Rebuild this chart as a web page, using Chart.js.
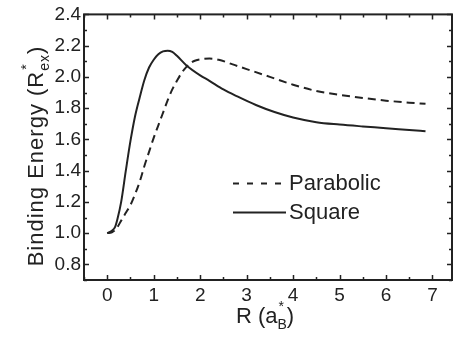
<!DOCTYPE html>
<html>
<head>
<meta charset="utf-8">
<script src="https://cdn.jsdelivr.net/npm/chart.js@4/dist/chart.umd.min.js"></script>
<style>
  html, body { margin: 0; padding: 0; background: #fff; }
  #wrap { width: 453px; height: 340px; }
</style>
</head>
<body>
<div id="wrap"><canvas id="c" width="453" height="340"></canvas></div>
<script>
// ---- Data ----
const squareR = [0, 0.1, 0.17, 0.22, 0.3, 0.4, 0.5, 0.6, 0.7, 0.8, 0.9, 1.0, 1.1, 1.2, 1.3, 1.4, 1.5, 1.7, 2.0, 2.2, 2.5, 2.8, 3.2, 3.6, 4.0, 4.5, 5.0, 5.5, 6.0, 6.5, 6.85];
const squareE = [1.0, 1.015, 1.04, 1.09, 1.2, 1.4, 1.59, 1.75, 1.87, 1.98, 2.06, 2.11, 2.145, 2.163, 2.168, 2.16, 2.135, 2.075, 2.01, 1.975, 1.92, 1.875, 1.82, 1.775, 1.74, 1.71, 1.695, 1.683, 1.672, 1.66, 1.652];

const parabolicR = [0, 0.1, 0.2, 0.3, 0.4, 0.5, 0.6, 0.7, 0.8, 0.9, 1.0, 1.1, 1.2, 1.3, 1.4, 1.5, 1.6, 1.7, 1.8, 1.9, 2.0, 2.2, 2.4, 2.7, 3.0, 3.5, 4.0, 4.5, 5.0, 5.5, 6.0, 6.5, 6.85];
const parabolicE = [1.0, 1.005, 1.03, 1.08, 1.13, 1.18, 1.25, 1.33, 1.43, 1.52, 1.61, 1.69, 1.77, 1.85, 1.92, 1.975, 2.025, 2.063, 2.09, 2.105, 2.112, 2.117, 2.11, 2.08, 2.05, 2.0, 1.95, 1.91, 1.885, 1.865, 1.848, 1.835, 1.828];

const seriesLabels = ['Parabolic', 'Square'];
const xTickValues = [0, 1, 2, 3, 4, 5, 6, 7];
const yTickValues = [0.8, 1.0, 1.2, 1.4, 1.6, 1.8, 2.0, 2.2, 2.4];
const xMinorTicks = [-0.5, 0.5, 1.5, 2.5, 3.5, 4.5, 5.5, 6.5];
const yMinorTicks = [0.7, 0.9, 1.1, 1.3, 1.5, 1.7, 1.9, 2.1, 2.3];

const INK = '#222222';
const FONT = "'Liberation Sans', Arial, sans-serif";

const toXY = (xs, ys) => xs.map((x, i) => ({ x: x, y: ys[i] }));

// Frame + inward ticks (mirrored on top/right)
const framePlugin = {
  id: 'frame',
  afterDatasetsDraw(chart) {
    const { ctx, chartArea: a, scales: { x, y } } = chart;
    ctx.save();
    ctx.strokeStyle = INK;
    ctx.lineWidth = 2;
    ctx.strokeRect(a.left, a.top, a.right - a.left, a.bottom - a.top);
    ctx.lineWidth = 1.5;
    ctx.beginPath();
    const tick = (vals, len, isX) => {
      vals.forEach(v => {
        if (isX) {
          const px = Math.round(x.getPixelForValue(v)) + 0.5;
          ctx.moveTo(px, a.bottom); ctx.lineTo(px, a.bottom - len);
          ctx.moveTo(px, a.top); ctx.lineTo(px, a.top + len);
        } else {
          const py = Math.round(y.getPixelForValue(v)) + 0.5;
          ctx.moveTo(a.left, py); ctx.lineTo(a.left + len, py);
          ctx.moveTo(a.right, py); ctx.lineTo(a.right - len, py);
        }
      });
    };
    tick(xTickValues, 5, true);
    tick(xMinorTicks, 3, true);
    tick(yTickValues, 5, false);
    tick(yMinorTicks, 3, false);
    ctx.stroke();
    ctx.restore();
  }
};

// Axis titles with super/subscripts
function drawRich(ctx, parts, size, spacing) {
  const small = Math.round(size * 0.62);
  ctx.letterSpacing = (spacing || 0) + 'px';
  const measure = p => {
    if (p.kind === 'n') { ctx.font = size + 'px ' + FONT; return ctx.measureText(p.t).width; }
    ctx.font = small + 'px ' + FONT;
    return Math.max(ctx.measureText(p.sup).width, ctx.measureText(p.sub).width);
  };
  let w = 0;
  parts.forEach(p => w += measure(p));
  let cx = -w / 2;
  parts.forEach(p => {
    const pw = measure(p);
    if (p.kind === 'n') {
      ctx.font = size + 'px ' + FONT;
      ctx.fillText(p.t, cx, 0);
    } else {
      ctx.font = small + 'px ' + FONT;
      ctx.fillText(p.sup, cx + 1, -size * 0.55);
      ctx.fillText(p.sub, cx, size * 0.28);
    }
    cx += pw;
  });
  ctx.letterSpacing = '0px';
}

const titlePlugin = {
  id: 'titles',
  afterDraw(chart) {
    const { ctx, chartArea: a } = chart;
    ctx.save();
    ctx.fillStyle = INK;
    ctx.textBaseline = 'alphabetic';
    ctx.textAlign = 'left';
    // Y title
    ctx.save();
    ctx.translate(43, 156);
    ctx.rotate(-Math.PI / 2);
    drawRich(ctx, [
      { t: 'Binding Energy (R', kind: 'n' },
      { sup: '*', sub: 'ex', kind: 'ss' },
      { t: ')', kind: 'n' }
    ], 22, 1);
    ctx.restore();
    // X title
    ctx.save();
    ctx.translate((a.left + a.right) / 2 - 3, 323);
    drawRich(ctx, [
      { t: 'R (a', kind: 'n' },
      { sup: '*', sub: 'B', kind: 'ss' },
      { t: ')', kind: 'n' }
    ], 22, 0);
    ctx.restore();
    ctx.restore();
  }
};

// Legend inside the plot
const legendDash = [6, 8];
const legendPlugin = {
  id: 'innerLegend',
  afterDraw(chart) {
    const { ctx } = chart;
    ctx.save();
    ctx.fillStyle = INK;
    ctx.font = '22px ' + FONT;
    ctx.textBaseline = 'middle';
    ctx.textAlign = 'left';
    const rows = [183, 212];
    chart.data.datasets.forEach((ds, i) => {
      const yy = rows[i];
      ctx.strokeStyle = ds.borderColor;
      ctx.lineWidth = ds.borderWidth;
      ctx.setLineDash(ds.borderDash ? legendDash : []);
      ctx.beginPath();
      ctx.moveTo(233, yy + 0.5);
      ctx.lineTo(286, yy + 0.5);
      ctx.stroke();
      ctx.setLineDash([]);
      ctx.fillText(ds.label, 289, yy + 1);
    });
    ctx.restore();
  }
};

new Chart(document.getElementById('c'), {
  type: 'line',
  data: {
    datasets: [
      {
        label: seriesLabels[0],
        data: toXY(parabolicR, parabolicE),
        borderColor: INK,
        borderWidth: 2,
        borderDash: [8, 5],
        pointRadius: 0,
        fill: false,
        cubicInterpolationMode: 'monotone'
      },
      {
        label: seriesLabels[1],
        data: toXY(squareR, squareE),
        borderColor: INK,
        borderWidth: 2,
        pointRadius: 0,
        fill: false,
        cubicInterpolationMode: 'monotone'
      }
    ]
  },
  options: {
    responsive: false,
    animation: false,
    events: [],
    layout: { padding: { top: 11, right: 1, left: 0, bottom: 0 } },
    plugins: { legend: { display: false }, tooltip: { enabled: false }, title: { display: false } },
    scales: {
      x: {
        type: 'linear',
        min: -0.5,
        max: 7.42,
        afterBuildTicks: s => { s.ticks = xTickValues.map(v => ({ value: v })); },
        afterFit: s => { s.height = 60; },
        grid: { display: false, drawTicks: false },
        border: { display: false },
        ticks: {
          color: INK,
          font: { family: FONT, size: 19 },
          padding: 4,
          maxRotation: 0,
          callback: v => String(v)
        }
      },
      y: {
        type: 'linear',
        min: 0.7,
        max: 2.4,
        afterBuildTicks: s => { s.ticks = yTickValues.map(v => ({ value: v })); },
        afterFit: s => { s.width = 84; },
        grid: { display: false, drawTicks: false },
        border: { display: false },
        ticks: {
          color: INK,
          font: { family: FONT, size: 19 },
          padding: 3,
          callback: v => Number(v).toFixed(1)
        }
      }
    }
  },
  plugins: [framePlugin, titlePlugin, legendPlugin]
});
</script>
</body>
</html>
